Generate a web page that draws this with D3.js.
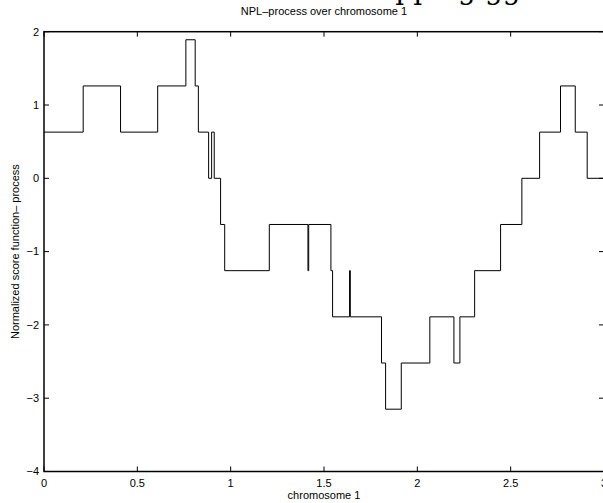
<!DOCTYPE html>
<html>
<head>
<meta charset="utf-8">
<script src="https://cdn.jsdelivr.net/npm/d3@7"></script>
<style>
  html, body { margin: 0; padding: 0; background: #fff; }
  svg { display: block; }
  text { font-family: "Liberation Sans", Arial, sans-serif; fill: #000; }
</style>
</head>
<body>
<svg id="chart" width="603" height="503"></svg>
<script>
// step breakpoints (position along chromosome) and the level that starts there
const stepX = [0, 0.21, 0.41, 0.609, 0.76, 0.81, 0.827, 0.882, 0.898, 0.912, 0.946, 0.968,
  1.207, 1.414, 1.418, 1.537, 1.546, 1.637, 1.641, 1.808, 1.830, 1.914, 2.067, 2.196,
  2.228, 2.307, 2.446, 2.560, 2.655, 2.767, 2.846, 2.91, 3.0];
const stepY = [0.63, 1.26, 0.63, 1.26, 1.89, 1.26, 0.63, 0, 0.63, 0, -0.63, -1.26,
  -0.63, -1.26, -0.63, -1.26, -1.89, -1.26, -1.89, -2.52, -3.15, -2.52, -1.89, -2.52,
  -1.89, -1.26, -0.63, 0, 0.63, 1.26, 0.63, 0, 0];
const xTicks = [0, 0.5, 1, 1.5, 2, 2.5, 3];
const yTicks = [-4, -3, -2, -1, 0, 1, 2];

const mLeft = 44, mRight = 604, mTop = 31.7, mBottom = 471.5;
const svg = d3.select("#chart");

const x = d3.scaleLinear().domain([0, 3]).range([mLeft, mRight]);
const y = d3.scaleLinear().domain([-4, 2]).range([mBottom, mTop]);

// clipped serif text from the page above
svg.append("text")
  .attr("x", 352).attr("y", -1)
  .style("font-family", "'DejaVu Serif', 'Liberation Serif', serif")
  .style("font-size", "28px")
  .text("mapping gg");

const data = stepX.map((d, i) => [d, stepY[i]]);

const line = d3.line()
  .x(d => x(d[0]))
  .y(d => y(d[1]))
  .curve(d3.curveStepAfter);

svg.append("path")
  .datum(data)
  .attr("d", line)
  .attr("fill", "none")
  .attr("stroke", "#000")
  .attr("stroke-width", 1);

// inward ticks on all four sides
const tl = 5;
const g = svg.append("g").attr("stroke", "#000").attr("stroke-width", 1);
xTicks.forEach(t => {
  g.append("line").attr("x1", x(t)).attr("x2", x(t)).attr("y1", mBottom).attr("y2", mBottom - tl);
  g.append("line").attr("x1", x(t)).attr("x2", x(t)).attr("y1", mTop).attr("y2", mTop + tl);
});
yTicks.forEach(t => {
  g.append("line").attr("x1", mLeft).attr("x2", mLeft + tl).attr("y1", y(t)).attr("y2", y(t));
  g.append("line").attr("x1", mRight).attr("x2", mRight - tl).attr("y1", y(t)).attr("y2", y(t));
});

// axes box
svg.append("rect")
  .attr("x", mLeft).attr("y", mTop)
  .attr("width", mRight - mLeft).attr("height", mBottom - mTop)
  .attr("fill", "none").attr("stroke", "#000").attr("stroke-width", 1.5);

const fmt = d => (d < 0 ? "\u2212" + Math.abs(d) : String(d));

svg.append("g").selectAll("text")
  .data(xTicks).enter().append("text")
  .attr("x", d => x(d)).attr("y", mBottom + 15)
  .attr("text-anchor", "middle")
  .style("font-size", "11px")
  .text(fmt);

svg.append("g").selectAll("text")
  .data(yTicks).enter().append("text")
  .attr("x", mLeft - 5).attr("y", d => y(d)).attr("dy", "0.35em")
  .attr("text-anchor", "end")
  .style("font-size", "11px")
  .text(fmt);

svg.append("text")
  .attr("x", (mLeft + mRight) / 2).attr("y", 15)
  .attr("text-anchor", "middle")
  .style("font-size", "11px")
  .text("NPL\u2013process over chromosome 1");

svg.append("text")
  .attr("x", (mLeft + mRight) / 2).attr("y", 499)
  .attr("text-anchor", "middle")
  .style("font-size", "11px")
  .text("chromosome 1");

svg.append("text")
  .attr("transform", `translate(19,${(mTop + mBottom) / 2}) rotate(-90)`)
  .attr("text-anchor", "middle")
  .style("font-size", "11px")
  .text("Normalized score function\u2013 process");
</script>
</body>
</html>
